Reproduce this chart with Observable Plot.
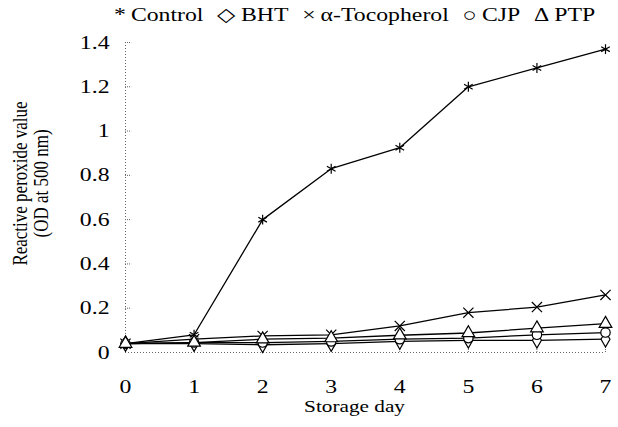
<!DOCTYPE html>
<html><head><meta charset="utf-8">
<script src="https://cdn.jsdelivr.net/npm/d3@7"></script>
<script src="https://cdn.jsdelivr.net/npm/@observablehq/plot@0.6"></script>
<style>
body{margin:0;background:#fff;}
#wrap{position:relative;width:618px;height:427px;overflow:hidden;}
#legend{position:absolute;left:114px;top:3px;font-family:"Liberation Serif","Times New Roman",serif;font-size:19px;white-space:nowrap;transform:scaleX(1.25);transform-origin:0 0;color:#000;z-index:2;}
#legend span.item{margin-right:11px}
#legend span.g{margin-right:4px}
svg text{font-family:"Liberation Serif","Times New Roman",serif;}
</style></head><body><div id="wrap"><div id="legend"></div></div>
<script>
const days = [0, 1, 2, 3, 4, 5, 6, 7];
const seriesNames = ["Control", "BHT", "α-Tocopherol", "CJP", "PTP"];
const legendGlyphs = ["*", "◇", "×", "○", "Δ"];
const control = [0.04, 0.08, 0.60, 0.83, 0.925, 1.20, 1.285, 1.37];
const bht = [0.04, 0.04, 0.035, 0.04, 0.05, 0.055, 0.055, 0.06];
const tocopherol = [0.04, 0.06, 0.075, 0.08, 0.12, 0.18, 0.205, 0.26];
const cjp = [0.04, 0.045, 0.045, 0.05, 0.06, 0.065, 0.08, 0.09];
const ptp = [0.04, 0.045, 0.06, 0.065, 0.078, 0.088, 0.11, 0.13];
const yTicks = [0, 0.2, 0.4, 0.6, 0.8, 1, 1.2, 1.4];
const yTickLabels = ["0", "0.2", "0.4", "0.6", "0.8", "1", "1.2", "1.4"];
const xTitle = "Storage day";
const yTitle = "Reactive peroxide value\n(OD at 500 nm)";

const seriesValues = [control, bht, tocopherol, cjp, ptp];
const symbols = ["asterisk", "diamond", "times", "circle", "triangle"];
const rows = [];
seriesNames.forEach((s, k) => days.forEach((d, i) => rows.push({series: s, day: d, value: seriesValues[k][i]})));

const K = 1.25;
const font = "Liberation Serif";
const axisColor = "#666";

const chart = Plot.plot({
  width: 618, height: 427,
  marginLeft: 125, marginRight: 13, marginTop: 42, marginBottom: 75,
  style: {fontFamily: font, color: "#000", background: "#fff", overflow: "visible"},
  x: {domain: [0, 7]},
  y: {domain: [0, 1.4]},
  symbol: {domain: seriesNames, range: symbols},
  marks: [
    Plot.ruleX([0], {y1: 0, y2: 1.4, stroke: axisColor, strokeDasharray: "1,2"}),
    Plot.ruleY([0], {x1: 0, x2: 7, stroke: axisColor, strokeDasharray: "1,2"}),
    Plot.ruleY(yTicks.filter(d => d > 0), {x1: 0, x2: 0.09, stroke: axisColor, strokeDasharray: "1,1"}),
    Plot.ruleX(days.filter(d => d > 0), {y1: 0, y2: 0.025, stroke: axisColor, strokeDasharray: "1,1"}),
    Plot.line(rows, {x: "day", y: "value", z: "series", stroke: "#000", strokeWidth: 1.3}),
    Plot.dot(rows, {x: "day", y: "value", symbol: "series", r: 4.7, fill: "#fff", stroke: "#000", strokeWidth: 1.2}),
    Plot.axisY(yTicks, {tickSize: 0, tickPadding: 16, fontSize: 19, fontFamily: font, label: null, tickFormat: d => yTickLabels[yTicks.indexOf(d)]}),
    Plot.axisX(days, {tickSize: 0, tickPadding: 27, fontSize: 19, fontFamily: font, label: null}),
    Plot.text([xTitle], {frameAnchor: "bottom", dx: -11, dy: 59, fontSize: 17, fontFamily: font, text: d => d}),
    Plot.text([yTitle], {frameAnchor: "left", textAnchor: "middle", rotate: -90, dx: -95, dy: -14, fontSize: 17, fontFamily: font, lineHeight: 1, text: d => d})
  ]
});

// horizontally widen text glyphs (reference typography is stretched)
chart.querySelectorAll("text").forEach(t => {
  const tr = t.getAttribute("transform") || "";
  let pre = "";
  const x = parseFloat(t.getAttribute("x") || "0");
  if (x) { pre = ` translate(${x},0)`; t.setAttribute("x", 0); }
  const rot = /rotate\(-90\)/.test(tr);
  t.setAttribute("transform", (tr + pre + (rot ? ` scale(1,${K})` : ` scale(${K},1)`)).trim());
});

document.getElementById("wrap").appendChild(chart);
const leg = document.getElementById("legend");
seriesNames.forEach((s, k) => {
  const item = document.createElement("span");
  item.className = "item";
  const g = document.createElement("span");
  g.className = "g";
  g.textContent = legendGlyphs[k];
  item.appendChild(g);
  item.appendChild(document.createTextNode(s));
  leg.appendChild(item);
});
</script></body></html>
